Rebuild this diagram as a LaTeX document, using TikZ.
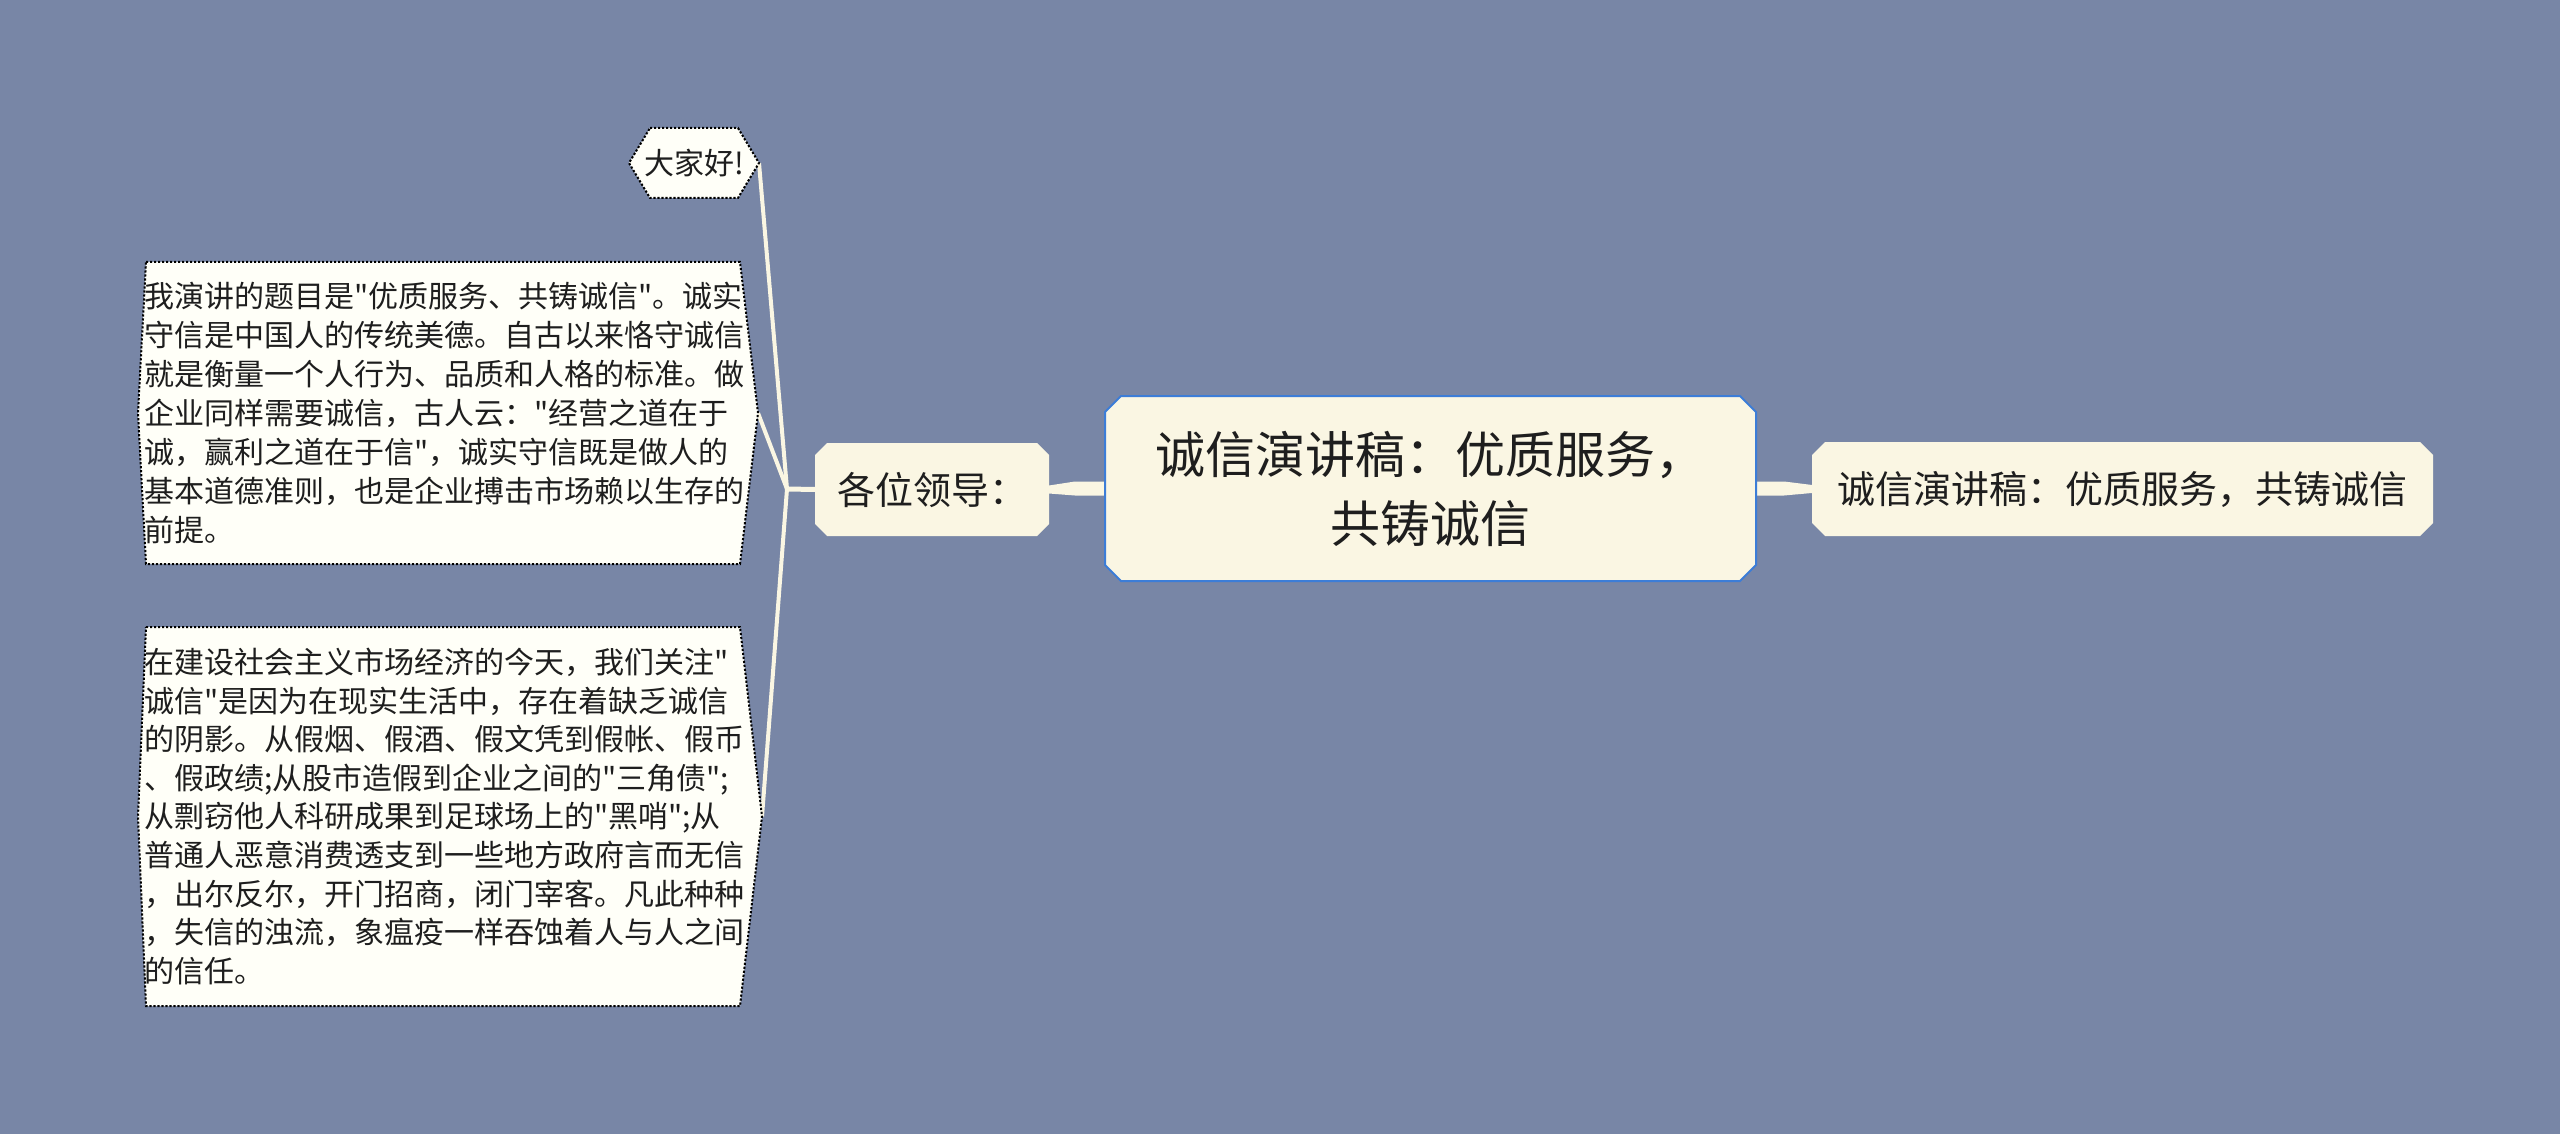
\documentclass[tikz,border=0pt]{standalone}
\usepackage{fontspec}
\newfontfamily\cjk{Noto Sans CJK SC}
\usetikzlibrary{calc}
\definecolor{bgc}{RGB}{120,134,166}
\definecolor{cream}{RGB}{250,246,227}
\definecolor{paper}{RGB}{255,255,248}
\definecolor{edgeblue}{RGB}{60,125,215}
\definecolor{txt}{RGB}{30,30,30}
\pgfdeclarelayer{bglayer}
\pgfdeclarelayer{shapelayer}
\pgfsetlayers{bglayer,shapelayer,main}
\newcommand\myocto[3]{%
  \path[#3] ([xshift=#2pt]#1.north west) -- ([xshift=-#2pt]#1.north east)
    -- ([yshift=-#2pt]#1.north east) -- ([yshift=#2pt]#1.south east)
    -- ([xshift=-#2pt]#1.south east) -- ([xshift=#2pt]#1.south west)
    -- ([yshift=#2pt]#1.south west) -- ([yshift=-#2pt]#1.north west) -- cycle;}
\newcommand\myhex[4]{%
  \path[#4] ([xshift=#2pt]#1.north west) -- ([xshift=-#3pt]#1.north east)
    -- (#1.east) -- ([xshift=-#3pt]#1.south east) -- ([xshift=#2pt]#1.south west)
    -- (#1.west) -- cycle;}
\begin{document}
\begin{tikzpicture}[x=1pt,y=-1pt,
  every node/.style={inner sep=0pt, outer sep=0pt, text=txt},
  dotbox/.style={fill=paper, draw=black, dash pattern=on 2.2pt off 1.8pt, line width=2pt},
  conn/.style={draw=cream, line width=4pt}]
\begin{pgfonlayer}{bglayer}
\fill[bgc] (0,0) rectangle (2560,1134);
\end{pgfonlayer}
\useasboundingbox (0,0) rectangle (2560,1134);

% nodes
\node[minimum width=651pt, minimum height=185pt, align=center,
      font=\cjk\fontsize{50pt}{69pt}\selectfont] (c) at (1430.5,488.5)
  {诚信演讲稿：优质服务，\\共铸诚信};
\node[minimum width=621pt, minimum height=94pt,
      font=\cjk\fontsize{38pt}{46pt}\selectfont] (r) at (2122.5,489)
  {诚信演讲稿：优质服务，共铸诚信};
\node[minimum width=234pt, minimum height=93pt,
      font=\cjk\fontsize{38pt}{46pt}\selectfont] (l) at (932,489.5)
  {各位领导：};
\node[minimum width=130pt, minimum height=70pt,
      font=\cjk\fontsize{30pt}{36pt}\selectfont] (g) at (694,163)
  {大家好!};
\node[minimum width=620pt, minimum height=302pt, text width=608pt, align=left,
      font=\cjk\fontsize{30pt}{39pt}\selectfont] (b1) at (448,413)
  {我演讲的题目是"优质服务、共铸诚信"。诚实\\
   守信是中国人的传统美德。自古以来恪守诚信\\
   就是衡量一个人行为、品质和人格的标准。做\\
   企业同样需要诚信，古人云："经营之道在于\\
   诚，赢利之道在于信"，诚实守信既是做人的\\
   基本道德准则，也是企业搏击市场赖以生存的\\
   前提。};
\node[minimum width=624pt, minimum height=379pt, text width=612pt, align=left,
      font=\cjk\fontsize{30pt}{38.6pt}\selectfont] (b2) at (450,816.5)
  {在建设社会主义市场经济的今天，我们关注"\\
   诚信"是因为在现实生活中，存在着缺乏诚信\\
   的阴影。从假烟、假酒、假文凭到假帐、假币\\
   、假政绩;从股市造假到企业之间的"三角债";\\
   从剽窃他人科研成果到足球场上的"黑哨";从\\
   普通人恶意消费透支到一些地方政府言而无信\\
   ，出尔反尔，开门招商，闭门宰客。凡此种种\\
   ，失信的浊流，象瘟疫一样吞蚀着人与人之间\\
   的信任。};
\coordinate (J) at (787,489);

\begin{pgfonlayer}{shapelayer}
% connectors
\fill[cream] ([yshift=7pt]c.west) -- ([xshift=-30pt,yshift=7pt]c.west)
  -- ([yshift=4pt]l.east) -- ([yshift=-4pt]l.east)
  -- ([xshift=-30pt,yshift=-7pt]c.west) -- ([yshift=-7pt]c.west) -- cycle;
\fill[cream] ([yshift=7pt]c.east) -- ([xshift=28pt,yshift=7pt]c.east)
  -- ([yshift=4pt]r.west) -- ([yshift=-4pt]r.west)
  -- ([xshift=28pt,yshift=-7pt]c.east) -- ([yshift=-7pt]c.east) -- cycle;
\draw[conn, line width=5pt] (J) -- (l.west);
\draw[conn] (J) -- (g.east);
\draw[conn] (J) -- (b1.east);
\draw[conn] (J) -- (b2.east);
% node outlines
\myocto{c}{16}{fill=cream, draw=edgeblue, line width=2pt}
\myocto{l}{12}{fill=cream}
\myocto{r}{13}{fill=cream}
\myhex{g}{21}{21}{dotbox}
\myhex{b1}{8}{18}{dotbox}
\myhex{b2}{8}{22}{dotbox}
\end{pgfonlayer}
\end{tikzpicture}
\end{document}
